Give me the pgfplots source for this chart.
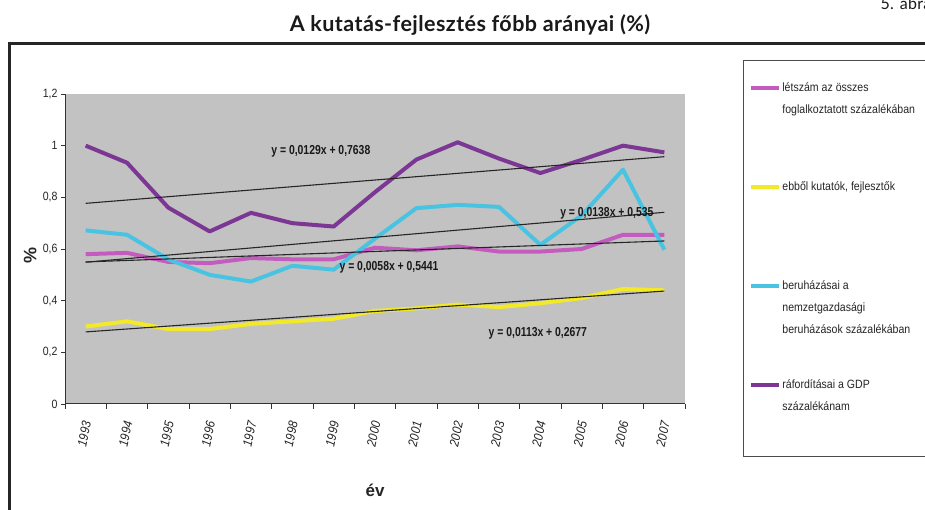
\documentclass[border=0pt]{standalone}
\usepackage{pgfplots}
\pgfplotsset{compat=1.18}
\usepackage{fontspec}
\setmainfont{Liberation Sans}
\newfontfamily\narrow{Liberation Sans}[FakeStretch=0.88]
\newfontfamily\narrowb{Liberation Sans}[FakeStretch=0.8,BoldFont={Liberation Sans Bold}]
\newfontfamily\titlefont{Lato}[LetterSpace=2]
\definecolor{cMag}{RGB}{196,92,192}
\definecolor{cYel}{RGB}{242,234,40}
\definecolor{cCya}{RGB}{72,196,226}
\definecolor{cPur}{RGB}{124,54,148}
\definecolor{plotgrey}{RGB}{194,194,194}

\pgfplotstableread{
x ls ku be ra
1 0.580 0.300 0.672 1.000
2 0.585 0.320 0.655 0.934
3 0.550 0.290 0.560 0.760
4 0.545 0.290 0.500 0.668
5 0.565 0.310 0.474 0.740
6 0.560 0.320 0.535 0.700
7 0.560 0.330 0.520 0.687
8 0.605 0.360 0.640 0.820
9 0.595 0.370 0.758 0.946
10 0.610 0.385 0.771 1.013
11 0.590 0.375 0.763 0.950
12 0.590 0.390 0.616 0.894
13 0.600 0.410 0.730 0.945
14 0.655 0.445 0.907 1.000
15 0.655 0.440 0.597 0.974
}\data

\newcommand{\legtext}[3]{\raisebox{0pt}[#1][#2]{\parbox[t]{140pt}{#3}}}

\begin{document}
\begin{tikzpicture}[x=1pt,y=1pt]
\useasboundingbox (0,0) rectangle (925,510);
\fill[white] (0,0) rectangle (925,510);
% outer frame
\draw[line width=3pt, black!85] (9.5,-10) -- (9.5,466.5) -- (940,466.5);
% title
\node[font=\titlefont\bfseries\fontsize{21.5}{23}\selectfont, anchor=base, text=black!90] at (470,478) {A kutatás-fejlesztés főbb arányai (\%)};
\node[font=\titlefont\fontsize{16}{18}\selectfont, anchor=base west, text=black!90] at (877,500) {5. ábra};

\begin{axis}[
  at={(65pt,106pt)}, anchor=south west,
  width=620pt, height=310pt, scale only axis,
  xmin=0.5, xmax=15.5, ymin=0, ymax=1.2,
  axis x line*=bottom, axis y line*=left,
  axis line style={black!80, line width=1pt},
  axis background/.style={fill=plotgrey},
  xtick={1,...,15},
  xticklabels={1993,1994,1995,1996,1997,1998,1999,2000,2001,2002,2003,2004,2005,2006,2007},
  minor xtick={0.5,1.5,...,15.5},
  major x tick style={draw=none},
  minor tick length=5pt,
  major tick length=4pt,
  tick align=outside,
  tick style={black!80, line width=0.8pt},
  ytick={0,0.2,0.4,0.6,0.8,1,1.2},
  yticklabels={0,{0,2},{0,4},{0,6},{0,8},1,{1,2}},
  yticklabel style={font=\narrow\fontsize{12}{14}\selectfont, text=black!85},
  xticklabel style={font=\narrow\itshape\fontsize{13}{15}\selectfont, yshift=-10pt, xshift=2pt, rotate=78, anchor=east, text=black!85},
  xlabel={év},
  xlabel style={font=\bfseries\fontsize{17}{19}\selectfont, text=black!85, at={(axis description cs:0.5,0)}, anchor=base, yshift=-93pt},
  ylabel={\%},
  ylabel style={font=\bfseries\fontsize{18}{20}\selectfont, text=black!85, at={(axis description cs:-0.056,0.48)}, anchor=center},
  clip=false,
  legend cell align=left,
  legend style={at={(rel axis cs:1.0935,1.1097)}, anchor=north west,
    draw=black!70, line width=0.8pt, fill=white,
    inner xsep=6pt, inner ysep=0pt, row sep=0pt, column sep=1pt,
    nodes={inner sep=0pt, text depth=},
    font=\narrow\fontsize{12}{22}\selectfont, text=black!85},
  legend image code/.code={\draw[#1, line width=4pt] (0pt,0pt) -- (28pt,0pt);},
]
\addplot[cMag, line width=4pt, line join=round] table[x=x,y=ls] {\data};
\addlegendentry{\legtext{31.3pt}{24.7pt}{létszám az összes\\foglalkoztatott százalékában}}
\addplot[cYel, line width=4pt, line join=round] table[x=x,y=ku] {\data};
\addlegendentry{\legtext{74.3pt}{67.7pt}{ebből kutatók, fejlesztők}}
\addplot[cCya, line width=4pt, line join=round] table[x=x,y=be] {\data};
\addlegendentry{\legtext{31.3pt}{24.7pt}{beruházásai a\\nemzetgazdasági\\beruházások százalékában}}
\addplot[cPur, line width=4pt, line join=round] table[x=x,y=ra] {\data};
\addlegendentry{\legtext{74.3pt}{67.7pt}{ráfordításai a GDP\\százalékánam}}

% linear trend lines (endpoints from the equations)
\addplot[black!85, line width=1.1pt, forget plot] coordinates {(1,0.5499) (15,0.6311)};
\addplot[black!85, line width=1.1pt, forget plot] coordinates {(1,0.2790) (15,0.4372)};
\addplot[black!85, line width=1.1pt, forget plot] coordinates {(1,0.5488) (15,0.7420)};
\addplot[black!85, line width=1.1pt, forget plot] coordinates {(1,0.7767) (15,0.9573)};

\node[font=\narrowb\bfseries\fontsize{13}{15}\selectfont, text=black!90] at (axis cs:6.69,0.979) {y = 0,0129x + 0,7638};
\node[font=\narrowb\bfseries\fontsize{13}{15}\selectfont, text=black!90] at (axis cs:13.61,0.739) {y = 0,0138x + 0,535};
\node[font=\narrowb\bfseries\fontsize{13}{15}\selectfont, text=black!90] at (axis cs:8.34,0.530) {y = 0,0058x + 0,5441};
\node[font=\narrowb\bfseries\fontsize{13}{15}\selectfont, text=black!90] at (axis cs:11.94,0.275) {y = 0,0113x + 0,2677};
\end{axis}
\end{tikzpicture}
\end{document}
